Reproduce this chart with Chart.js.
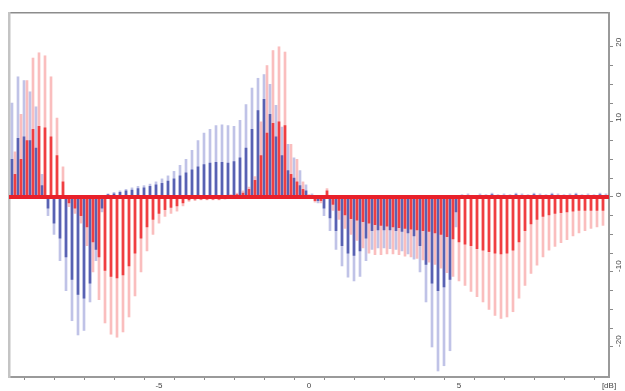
<!DOCTYPE html>
<html>
<head>
<meta charset="utf-8">
<script src="https://cdn.jsdelivr.net/npm/chart.js@4.4.1/dist/chart.umd.min.js"></script>
<style>
    html, body { margin: 0; padding: 0; background: #ffffff; }
    #wrap { width: 625px; height: 391px; position: relative; }
</style>
</head>
<body>
<div id="wrap"><canvas id="levelChart"></canvas></div>
<script>
// blue series: bar positions and levels (outer = light envelope, inner = dark core)
var xBlue = [
    -9.9, -9.7, -9.5, -9.3, -9.1, -8.9, -8.7, -8.5, -8.3, -8.1,
    -7.9, -7.7, -7.5, -7.3, -7.1, -6.9, -6.7, -6.5, -6.3, -6.1,
    -5.9, -5.7, -5.5, -5.3, -5.1, -4.9, -4.7, -4.5, -4.3, -4.1,
    -3.9, -3.7, -3.5, -3.3, -3.1, -2.9, -2.7, -2.5, -2.3, -2.1,
    -1.9, -1.7, -1.5, -1.3, -1.1, -0.9, -0.7, -0.5, -0.3, -0.1,
    0.1, 0.3, 0.5, 0.7, 0.9, 1.1, 1.3, 1.5, 1.7, 1.9,
    2.1, 2.3, 2.5, 2.7, 2.9, 3.1, 3.3, 3.5, 3.7, 3.9,
    4.1, 4.3, 4.5, 4.7, 4.9, 5.1, 5.3, 5.5, 5.7, 5.9,
    6.1, 6.3, 6.5, 6.7, 6.9, 7.1, 7.3, 7.5, 7.7, 7.9,
    8.1, 8.3, 8.5, 8.7, 8.9, 9.1, 9.3, 9.5, 9.7, 9.9
];
var blueOuter = [
    12.5, 16, 15.5, 14, 12, 3, -2.5, -5, -8.5, -12.5,
    -16.5, -18.4, -17.8, -14, -8.5, -2, 0.4, 0.6, 0.8, 1.0,
    1.2, 1.4, 1.5, 1.7, 2.0, 2.4, 2.8, 3.4, 4.2, 5.0,
    6.2, 7.5, 8.5, 9.0, 9.5, 9.6, 9.5, 9.4, 10.2, 12.3,
    14.5, 15.8, 16.3, 15.0, 12.2, 9.3, 7.0, 5.2, 3.5, 1.6,
    0.4, -0.8, -2.5, -4.5, -7, -9.2, -10.7, -11.2, -10.6, -8.5,
    -7, -6.8, -6.8, -6.9, -7, -7.2, -7.6, -8.3, -10, -14,
    -20, -23.2, -22.5, -20.5, -4, 0.3, 0.4, 0.2, 0.4, 0.3,
    0.5, 0.3, 0.4, 0.3, 0.5, 0.4, 0.3, 0.5, 0.4, 0.3,
    0.5, 0.4, 0.3, 0.4, 0.5, 0.3, 0.4, 0.3, 0.5, 0.4
];
var blueInner = [
    5, 7.8, 8, 7.5, 6.5, 1.5, -1.5, -3.5, -5.5, -8,
    -11, -13, -13.5, -11.5, -7, -1.5, 0.3, 0.4, 0.6, 0.8,
    0.9, 1.1, 1.2, 1.4, 1.6, 1.8, 2.1, 2.4, 2.8, 3.2,
    3.6, 4.0, 4.3, 4.5, 4.6, 4.6, 4.5, 4.7, 5.2, 6.5,
    9, 11.5, 13, 11, 8, 5.5, 3.5, 2.5, 1.5, 0.8,
    0.2, -0.5, -1.5, -2.8, -4.5, -6.5, -7.5, -7.8, -7.2, -5.5,
    -4.5, -4.4, -4.4, -4.4, -4.5, -4.6, -4.8, -5.2, -6.5, -9,
    -11.5, -12.5, -12, -11, -2, 0.2, 0.2, 0.1, 0.2, 0.2,
    0.3, 0.2, 0.2, 0.2, 0.3, 0.2, 0.2, 0.3, 0.2, 0.2,
    0.3, 0.2, 0.2, 0.2, 0.3, 0.2, 0.2, 0.2, 0.3, 0.2
];

// red series
var xRed = [
    -9.8, -9.6, -9.4, -9.2, -9.0, -8.8, -8.6, -8.4, -8.2, -8.0,
    -7.8, -7.6, -7.4, -7.2, -7.0, -6.8, -6.6, -6.4, -6.2, -6.0,
    -5.8, -5.6, -5.4, -5.2, -5.0, -4.8, -4.6, -4.4, -4.2, -4.0,
    -3.8, -3.6, -3.4, -3.2, -3.0, -2.8, -2.6, -2.4, -2.2, -2.0,
    -1.8, -1.6, -1.4, -1.2, -1.0, -0.8, -0.6, -0.4, -0.2, 0.0,
    0.2, 0.4, 0.6, 0.8, 1.0, 1.2, 1.4, 1.6, 1.8, 2.0,
    2.2, 2.4, 2.6, 2.8, 3.0, 3.2, 3.4, 3.6, 3.8, 4.0,
    4.2, 4.4, 4.6, 4.8, 5.0, 5.2, 5.4, 5.6, 5.8, 6.0,
    6.2, 6.4, 6.6, 6.8, 7.0, 7.2, 7.4, 7.6, 7.8, 8.0,
    8.2, 8.4, 8.6, 8.8, 9.0, 9.2, 9.4, 9.6, 9.8
];
var redOuter = [
    6, 11, 15.5, 18.5, 19.2, 18.8, 16, 10.5, 4, -1.3,
    -2.2, -3.5, -6.5, -10, -13.7, -16.8, -18.3, -18.7, -18, -16,
    -13.2, -10, -7.2, -5, -3.5, -2.6, -2.2, -1.9, -1.2, -0.6,
    -0.5, -0.4, -0.4, -0.4, -0.4, -0.3, 0.3, 0.5, 0.8, 1.3,
    2.7, 10, 17.5, 19.5, 20, 19.3, 7, 5, 2, 0.3,
    -0.7, -0.8, 1.1, -1.8, -3, -4.2, -5, -5.8, -6.8, -7.5,
    -7.7, -7.7, -7.6, -7.6, -7.7, -7.9, -8.0, -8.2, -8.4, -8.7,
    -9.0, -9.5, -10.1, -10.6, -11.2, -11.8, -12.6, -13.3, -14, -15,
    -15.8, -16.2, -16, -15.3, -13.5, -11.8, -10.2, -9.1, -8, -7.1,
    -6.6, -6.1, -5.7, -5.2, -4.8, -4.5, -4.2, -4.0, -3.8
];
var redInner = [
    3, 5, 7.5, 9, 9.4, 9.2, 8, 5.5, 2, -0.8,
    -1.5, -2.5, -4, -6, -8, -9.8, -10.6, -10.8, -10.4, -9.2,
    -7.5, -5.5, -4, -3, -2.2, -1.7, -1.4, -1.2, -0.8, -0.4,
    -0.3, -0.3, -0.3, -0.3, -0.3, -0.2, 0.2, 0.3, 0.5, 1,
    2.2, 5.5, 8.5, 9.8, 10, 9.5, 3, 2, 1, 0.2,
    -0.5, -0.5, 0.8, -1, -1.8, -2.4, -2.9, -3.1, -3.3, -3.5,
    -3.7, -3.8, -3.9, -4, -4.1, -4.2, -4.3, -4.4, -4.5, -4.6,
    -4.8, -5.0, -5.3, -5.6, -6, -6.3, -6.5, -6.9, -7.1, -7.3,
    -7.5, -7.6, -7.5, -7.1, -6, -4.5, -3.6, -3.0, -2.6, -2.4,
    -2.2, -2.1, -2.0, -1.9, -1.8, -1.8, -1.8, -1.8, -1.8
];

// zero reference line
var zeroX = [-10, 10];
var zeroY = [0, 0];

var xTickLabels = { '-5': '-5', '0': '0', '5': '5', '10': '[dB]' };
var yTickLabels = { '20': '20', '10': '10', '0': '0', '-10': '-10', '-20': '-20' };

function toPoints(xs, ys)
{
    var pts = [];
    for (var i = 0; i < ys.length; i++)
    {
        pts.push({ x: xs[i], y: ys[i] });
    }
    return pts;
}

var tickFont = { family: "'Liberation Sans', Arial, sans-serif", size: 8 };

var ctx = document.getElementById('levelChart').getContext('2d');

var levelChart = new Chart(ctx, {
    type: 'bar',
    data: {
        datasets: [
            {
                type: 'line',
                data: toPoints(zeroX, zeroY),
                borderColor: '#e8202a',
                borderWidth: 4,
                pointRadius: 0,
                order: 0
            },
            {
                data: toPoints(xRed, redInner),
                backgroundColor: 'rgba(238, 40, 44, 0.85)',
                barThickness: 2,
                grouped: false,
                order: 1
            },
            {
                data: toPoints(xRed, redOuter),
                backgroundColor: 'rgba(245, 110, 110, 0.45)',
                barThickness: 2,
                grouped: false,
                order: 2
            },
            {
                data: toPoints(xBlue, blueInner),
                backgroundColor: 'rgba(62, 74, 166, 0.8)',
                barThickness: 2,
                grouped: false,
                order: 3
            },
            {
                data: toPoints(xBlue, blueOuter),
                backgroundColor: 'rgba(115, 122, 202, 0.45)',
                barThickness: 2,
                grouped: false,
                order: 4
            }
        ]
    },
    options: {
        responsive: true,
        maintainAspectRatio: false,
        animation: false,
        layout: {
            padding: { left: 9, top: 13, right: 0, bottom: 0 }
        },
        plugins: {
            legend: { display: false },
            tooltip: { enabled: false }
        },
        scales: {
            x: {
                type: 'linear',
                min: -10,
                max: 10,
                offset: false,
                border: { display: true, color: '#9a9a9a', width: 2 },
                grid: { drawOnChartArea: false, drawTicks: true, tickLength: 3, color: '#8a8a8a' },
                ticks: {
                    stepSize: 1,
                    autoSkip: false,
                    maxRotation: 0,
                    padding: 1,
                    color: '#444',
                    font: tickFont,
                    callback: function (value) { return xTickLabels[String(value)] || ''; }
                },
                afterFit: function (scale) { scale.height = 14; }
            },
            xTop: {
                type: 'linear',
                position: 'top',
                min: -10,
                max: 10,
                border: { display: true, color: '#8c8c8c', width: 1.5 },
                grid: { display: false },
                ticks: { display: false },
                afterFit: function (scale) { scale.height = 0; }
            },
            y: {
                position: 'right',
                min: -24,
                max: 24.5,
                border: { display: true, color: '#9a9a9a', width: 2 },
                grid: { drawOnChartArea: false, drawTicks: true, tickLength: 4, color: '#8a8a8a' },
                ticks: {
                    stepSize: 2.5,
                    autoSkip: false,
                    minRotation: 90,
                    maxRotation: 90,
                    padding: 6,
                    color: '#444',
                    font: tickFont,
                    callback: function (value) { return yTickLabels[String(value)] || ''; }
                },
                afterBuildTicks: function (scale)
                {
                    scale.ticks = scale.ticks.filter(function (t)
                    {
                        var r = t.value / 2.5;
                        return Math.abs(r - Math.round(r)) < 1e-6;
                    });
                },
                afterFit: function (scale) { scale.width = 16; }
            },
            yLeft: {
                position: 'left',
                min: -24,
                max: 24.5,
                border: { display: true, color: '#c4c4c4', width: 2.5 },
                grid: { display: false },
                ticks: { display: false },
                afterFit: function (scale) { scale.width = 0; }
            }
        }
    }
});
</script>
</body>
</html>
